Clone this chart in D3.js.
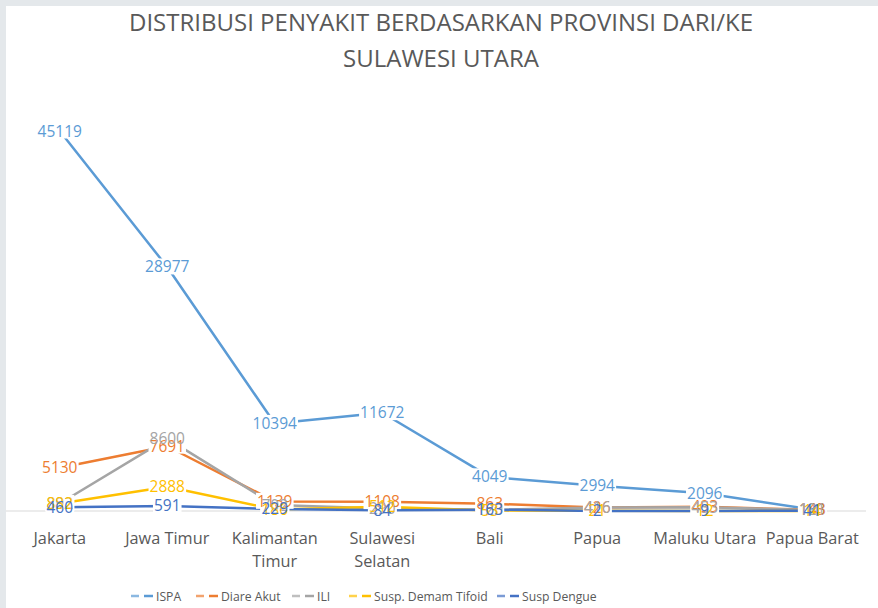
<!DOCTYPE html>
<html>
<head>
<meta charset="utf-8">
<script src="https://cdn.jsdelivr.net/npm/d3@7"></script>
<style>
  body { margin: 0; background: #e4e8eb; }
  svg { display: block; }
</style>
</head>
<body>
<div id="chart"></div>
<script>
// categories and series values
const provinces = ["Jakarta", "Jawa Timur", "Kalimantan Timur", "Sulawesi Selatan", "Bali", "Papua", "Maluku Utara", "Papua Barat"];
const seriesNames = ["ISPA", "Diare Akut", "ILI", "Susp. Demam Tifoid", "Susp Dengue"];
const ispa = [45119, 28977, 10394, 11672, 4049, 2994, 2096, 183];
const diare = [5130, 7691, 1139, 1108, 863, 426, 493, 143];
const ili = [892, 8600, 702, 290, 120, 416, 453, 121];
const tifoid = [882, 2888, 186, 512, 53, 21, 12, 14];
const dengue = [460, 591, 229, 84, 163, 2, 9, 41];
const colors = ["#5b9bd5", "#ed7d31", "#a5a5a5", "#ffc000", "#4472c4"];

const width = 878, height = 608;
const font = "'Open Sans', sans-serif";

let svg = d3.select("#chart").append("svg")
    .attr("width", width)
    .attr("height", height);

// white chart area over the blurred background
svg.append("rect")
    .attr("x", 6).attr("y", 6)
    .attr("width", width - 6).attr("height", height - 6)
    .attr("fill", "#ffffff");

// title
let title = svg.append("text")
    .attr("text-anchor", "middle")
    .attr("font-family", font)
    .attr("font-size", 24)
    .attr("fill", "#595959");
title.append("tspan").attr("x", 441).attr("y", 31).text("DISTRIBUSI PENYAKIT BERDASARKAN PROVINSI DARI/KE");
title.append("tspan").attr("x", 441).attr("y", 67).text("SULAWESI UTARA");

let x = d3.scalePoint()
    .domain(provinces)
    .range([6, 866])
    .padding(0.5);

let y = d3.scaleLinear()
    .domain([0, 50000])
    .range([511, 90]);

// category axis line
svg.append("line")
    .attr("x1", 6).attr("x2", 866)
    .attr("y1", y(0)).attr("y2", y(0))
    .attr("stroke", "#d9d9d9")
    .attr("stroke-width", 1);

// category labels (Excel wraps the two long names)
const wrapped = ["Kalimantan Timur", "Sulawesi Selatan"];
provinces.forEach(p => {
    let lines = wrapped.includes(p) ? p.split(" ") : [p];
    let t = svg.append("text")
        .attr("text-anchor", "middle")
        .attr("font-family", font)
        .attr("font-size", 16.3)
        .attr("fill", "#595959");
    lines.forEach((l, i) => {
        t.append("tspan")
            .attr("x", x(p))
            .attr("y", 544 + i * 23)
            .text(l);
    });
});

let allSeries = [ispa, diare, ili, tifoid, dengue];

let line = d3.line()
    .x((d, i) => x(provinces[i]))
    .y(d => y(d));

allSeries.forEach((s, k) => {
    svg.append("path")
        .datum(s)
        .attr("d", line)
        .attr("fill", "none")
        .attr("stroke", colors[k])
        .attr("stroke-width", 2.5)
        .attr("stroke-linejoin", "round")
        .attr("stroke-linecap", "round");
});

// data labels, centered on the points; white boxes go first, then all texts
let boxLayer = svg.append("g");
let textLayer = svg.append("g");
allSeries.forEach((s, k) => {
    s.forEach((v, i) => {
        let txt = textLayer.append("text")
            .attr("x", x(provinces[i]))
            .attr("y", y(v))
            .attr("text-anchor", "middle")
            .attr("dy", "0.35em")
            .attr("font-family", font)
            .attr("font-size", 15.5)
            .attr("fill", colors[k])
            .text(v);
        let bb = txt.node().getBBox();
        boxLayer.append("rect")
            .attr("x", bb.x - 1)
            .attr("y", bb.y + 3)
            .attr("width", bb.width + 2)
            .attr("height", bb.height - 6)
            .attr("fill", "#ffffff");
    });
});

// legend
let legendX = [131, 196, 292, 349, 497];
seriesNames.forEach((name, k) => {
    let lx = legendX[k], ly = 596;
    svg.append("line")
        .attr("x1", lx).attr("x2", lx + 8)
        .attr("y1", ly).attr("y2", ly)
        .attr("stroke", colors[k]).attr("stroke-width", 2.5)
        .attr("opacity", 0.7);
    svg.append("line")
        .attr("x1", lx + 13).attr("x2", lx + 22)
        .attr("y1", ly).attr("y2", ly)
        .attr("stroke", colors[k]).attr("stroke-width", 2.5);
    svg.append("text")
        .attr("x", lx + 25)
        .attr("y", ly + 5)
        .attr("font-family", font)
        .attr("font-size", 12.2)
        .attr("fill", "#595959")
        .text(name);
});
</script>
</body>
</html>
